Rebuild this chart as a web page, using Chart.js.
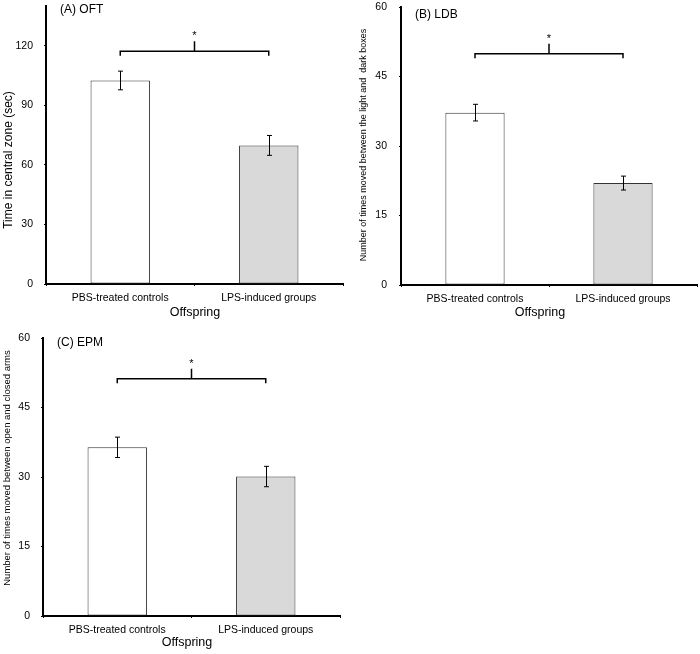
<!DOCTYPE html>
<html>
<head>
<meta charset="utf-8">
<script src="https://cdn.jsdelivr.net/npm/chart.js@4.4.1/dist/chart.umd.min.js"></script>
<style>
  body { margin: 0; background: #fff; }
  #wrap { position: relative; width: 700px; height: 654px; }
  canvas { position: absolute; }
</style>
</head>
<body>
<div id="wrap">
  <canvas id="oftChart" width="350" height="320" style="left:0;top:0"></canvas>
  <canvas id="ldbChart" width="350" height="320" style="left:350px;top:0"></canvas>
  <canvas id="epmChart" width="350" height="334" style="left:0;top:320px"></canvas>
</div>
<script>
const groups = ['PBS-treated controls', 'LPS-induced groups'];
const oftMeans = [102.5, 69.8];
const oftErrors = [4.7, 5.0];
const ldbMeans = [37.2, 22.0];
const ldbErrors = [1.8, 1.5];
const epmMeans = [36.4, 30.1];
const epmErrors = [2.2, 2.2];
// where the significance bracket sits, in axis units (OFT, LDB, EPM)
const bracketLevels = [117.2, 49.9, 51.2];
const yMaxes = [140, 60, 60];
const ySteps = [30, 15, 15];

const FONT = '"Liberation Sans", Arial, sans-serif';
const barColors = ['#ffffff', '#d9d9d9'];

// error bars, bracket + asterisk, and the free-floating labels
const extrasPlugin = {
  id: 'extras',
  afterDatasetsDraw(chart, args, opts) {
    const ctx = chart.ctx;
    const y = chart.scales.y;
    const bars = chart.getDatasetMeta(0).data;
    const vals = chart.data.datasets[0].data;
    ctx.save();
    ctx.strokeStyle = '#000';
    ctx.fillStyle = '#000';
    ctx.lineWidth = 1;
    opts.errors.forEach((err, i) => {
      const x = Math.round(bars[i].x) + 0.5;
      const top = y.getPixelForValue(vals[i] + err);
      const bot = y.getPixelForValue(vals[i] - err);
      ctx.beginPath();
      ctx.moveTo(x, top); ctx.lineTo(x, bot);
      ctx.moveTo(x - 2.5, top); ctx.lineTo(x + 2.5, top);
      ctx.moveTo(x - 2.5, bot); ctx.lineTo(x + 2.5, bot);
      ctx.stroke();
    });

    const by = y.getPixelForValue(opts.bracket);
    const x0 = bars[0].x, x1 = bars[1].x, xm = (x0 + x1) / 2;
    ctx.lineWidth = 1.5;
    ctx.beginPath();
    ctx.moveTo(x0, by + 4.5); ctx.lineTo(x0, by); ctx.lineTo(x1, by); ctx.lineTo(x1, by + 4.5);
    ctx.moveTo(xm, by); ctx.lineTo(xm, by - 10);
    ctx.stroke();
    ctx.font = '11px ' + FONT;
    ctx.textAlign = 'center';
    ctx.textBaseline = 'alphabetic';
    ctx.fillText('*', xm, by - 12);

    // panel tag
    ctx.font = '12px ' + FONT;
    ctx.textAlign = 'left';
    ctx.textBaseline = 'middle';
    ctx.fillText(opts.tag, chart.chartArea.left + 14, opts.tagY);

    // x title
    ctx.font = '12.5px ' + FONT;
    ctx.textAlign = 'center';
    ctx.fillText('Offspring', opts.xTitle[0], opts.xTitle[1]);

    // y title
    ctx.font = opts.yTitleSize + 'px ' + FONT;
    ctx.translate(opts.yTitlePos[0], opts.yTitlePos[1]);
    ctx.rotate(-Math.PI / 2);
    ctx.fillText(opts.yTitle, 0, 0);
    ctx.restore();
  }
};

function makePanel(id, means, errors, idx, cfg) {
  return new Chart(document.getElementById(id), {
    type: 'bar',
    data: {
      labels: groups,
      datasets: [{
        data: means,
        backgroundColor: barColors,
        borderColor: '#333',
        borderWidth: 1,
        borderSkipped: false,
        barPercentage: 0.4,
        categoryPercentage: 1
      }]
    },
    options: {
      responsive: false,
      animation: false,
      devicePixelRatio: 1,
      layout: { padding: cfg.pad },
      plugins: {
        legend: { display: false },
        tooltip: { enabled: false },
        extras: {
          errors: errors,
          bracket: bracketLevels[idx],
          tag: cfg.tag,
          tagY: cfg.tagY,
          xTitle: cfg.xTitle,
          yTitle: cfg.yTitle,
          yTitleSize: cfg.yTitleSize,
          yTitlePos: cfg.yTitlePos
        }
      },
      scales: {
        x: {
          grid: { drawOnChartArea: false, tickLength: 2, color: '#000', offset: true },
          border: { color: '#000', width: 2 },
          ticks: { color: '#000', font: { family: FONT, size: 10.5 }, padding: 6, maxRotation: 0 },
          afterFit: s => { s.height = cfg.xH; s.paddingLeft = 0; s.paddingRight = 0; }
        },
        y: {
          min: 0,
          max: yMaxes[idx],
          grid: { drawOnChartArea: false, tickLength: 2, color: '#000' },
          border: { color: '#000', width: 2 },
          ticks: {
            stepSize: ySteps[idx],
            includeBounds: false,
            padding: cfg.yPad,
            color: '#000',
            font: { family: FONT, size: 10.5 }
          },
          afterFit: s => { s.width = cfg.yW; s.paddingTop = 0; s.paddingBottom = 0; }
        }
      }
    },
    plugins: [extrasPlugin]
  });
}

makePanel('oftChart', oftMeans, oftErrors, 0, {
  pad: { left: 0, top: 6, right: 7, bottom: 0 }, yW: 46, xH: 36, yPad: 11,
  tag: '(A) OFT', tagY: 10, xTitle: [195, 313],
  yTitle: 'Time in central zone (sec)', yTitleSize: 12, yTitlePos: [9, 160]
});
makePanel('ldbChart', ldbMeans, ldbErrors, 1, {
  pad: { left: 0, top: 7, right: 3, bottom: 0 }, yW: 51, xH: 35, yPad: 12,
  tag: '(B) LDB', tagY: 15, xTitle: [190, 313],
  yTitle: 'Number of times moved between the light and  dark boxes', yTitleSize: 9, yTitlePos: [14, 145]
});
makePanel('epmChart', epmMeans, epmErrors, 2, {
  pad: { left: 0, top: 18, right: 10, bottom: 0 }, yW: 43, xH: 38, yPad: 11,
  tag: '(C) EPM', tagY: 23, xTitle: [187, 323],
  yTitle: 'Number of times moved between open and closed arms', yTitleSize: 9.5, yTitlePos: [7, 148]
});
</script>
</body>
</html>
